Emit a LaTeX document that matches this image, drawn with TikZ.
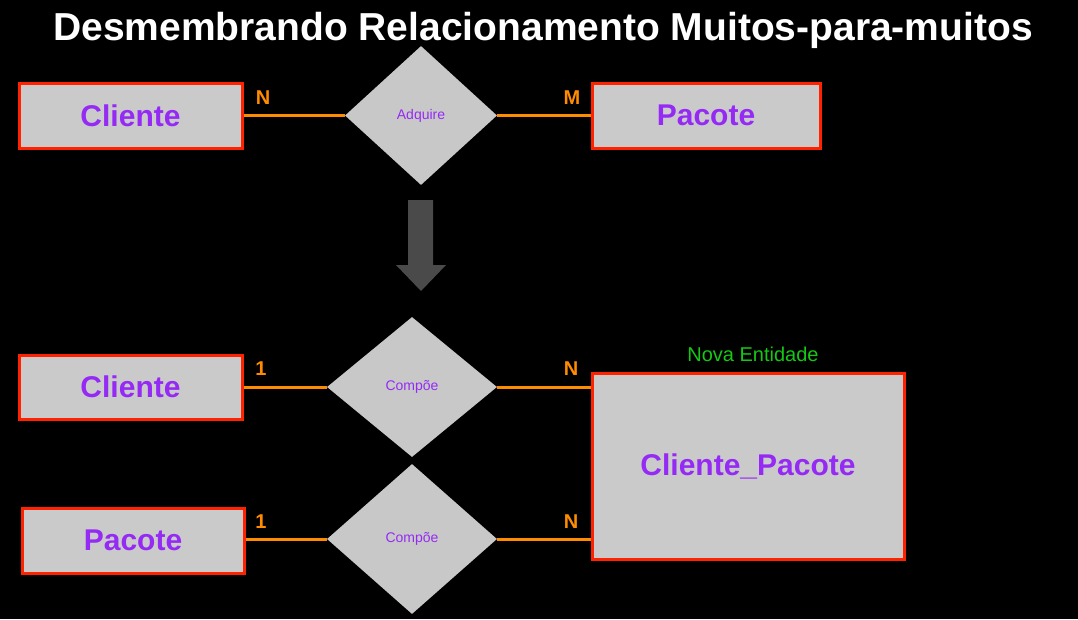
\documentclass[tikz,border=0pt]{standalone}
\usepackage{fontspec}
\setmainfont{Liberation Sans}
\usetikzlibrary{shapes.geometric}
\definecolor{bgc}{RGB}{0,0,0}
\definecolor{boxfill}{RGB}{203,202,203}
\definecolor{boxred}{RGB}{255,34,0}
\definecolor{purp}{RGB}{150,42,245}
\definecolor{orng}{RGB}{255,140,0}
\definecolor{dia}{RGB}{200,200,200}
\definecolor{grn}{RGB}{20,200,20}
\definecolor{arr}{RGB}{74,74,74}
\tikzset{
  entity/.style={draw=boxred, line width=3pt, fill=boxfill, text=purp, font=\fontsize{30}{32}\selectfont\bfseries, inner sep=0pt},
  rel/.style={diamond, fill=dia, text=purp, font=\fontsize{14}{16}\selectfont, inner sep=0pt, aspect=1},
  conn/.style={draw=orng, line width=3pt},
  card/.style={text=orng, font=\fontsize{20}{22}\selectfont\bfseries, inner sep=0pt},
}
\begin{document}
\begin{tikzpicture}[x=1pt, y=-1pt]
\fill[bgc] (0,0) rectangle (1078,619);
\useasboundingbox (0,0) rectangle (1078,619);
\node[text=white, font=\fontsize{39}{42}\selectfont\bfseries] (title) at (543,30) {Desmembrando Relacionamento Muitos-para-muitos};
% top row
\node[entity, minimum width=223pt, minimum height=65pt] (c1) at (130.5,115.5) {Cliente};
\node[rel, minimum width=152pt, minimum height=139pt] (adq) at (421,115.5) {Adquire};
\node[entity, minimum width=228pt, minimum height=65pt] (p1) at (706,115.5) {Pacote};
\draw[conn] (c1.east) -- (adq.west);
\draw[conn] (adq.east) -- (p1.west);
\node[card] (n1) at (263,98) {N};
\node[card] (m1) at (572,98) {M};
% arrow
\fill[arr] (408,200) -- (433,200) -- (433,265) -- (446,265) -- (421,291) -- (396,265) -- (408,265) -- cycle;
% bottom
\node[entity, minimum width=223pt, minimum height=64pt] (c2) at (130.5,387) {Cliente};
\node[rel, minimum width=170pt, minimum height=140pt] (cp1) at (412,387) {Compõe};
\node[rel, minimum width=170pt, minimum height=150pt] (cp2) at (412,539) {Compõe};
\node[entity, minimum width=222pt, minimum height=65pt] (p2) at (133,540.5) {Pacote};
\node[entity, minimum width=312pt, minimum height=186pt] (cp) at (748,466) {Cliente\_Pacote};
\node[text=grn, font=\fontsize{20}{22}\selectfont, inner sep=0pt] (nova) at (753,354) {Nova Entidade};
\draw[conn] (c2.east) -- (cp1.west);
\draw[conn] (cp1.east) -- (cp.west |- cp1.east);
\draw[conn] (p2.east |- cp2.west) -- (cp2.west);
\draw[conn] (cp2.east) -- (cp.west |- cp2.east);
\node[card] (o1) at (261,369) {1};
\node[card] (n2) at (571,369) {N};
\node[card] (o2) at (261,522) {1};
\node[card] (n3) at (571,522) {N};
\end{tikzpicture}
\end{document}
